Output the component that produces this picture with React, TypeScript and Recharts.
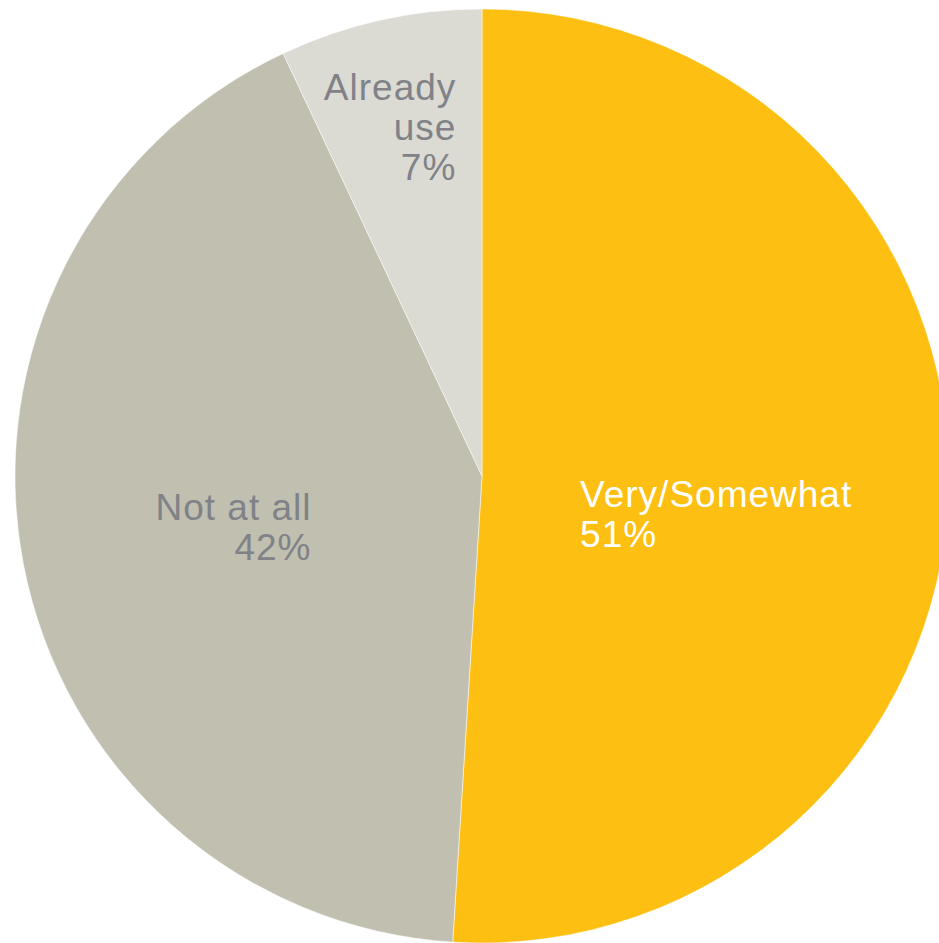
import React from 'react'
import { PieChart, Pie, Cell } from 'recharts'

const categories = ['Very/Somewhat', 'Not at all', 'Already use']
const shares = [51, 42, 7]
const labelLines = [['Very/Somewhat'], ['Not at all'], ['Already', 'use']]

const data = categories.map((name, i) => ({ name, value: shares[i], lines: labelLines[i] }))

const COLORS = ['#FDBF12', '#C1BFB0', '#DCDBD3']
const TEXT_COLORS = ['#FFFFFF', '#808288', '#808288']

// label placement relative to the pie (fractions of the radius)
const LABEL_POS = [
  { dx: 0.21, dy: 0.066, anchor: 'start' },
  { dx: -0.365, dy: 0.094, anchor: 'end' },
  { dx: -0.055, dy: -0.805, anchor: 'end' },
]

const LINE_H = 40

const renderLabel = (props: any) => {
  const { cx, cy, outerRadius, index, value } = props
  const p = LABEL_POS[index]
  const x = cx + p.dx * outerRadius
  const y = cy + p.dy * outerRadius
  const lines = [...data[index].lines, `${value}%`]
  return (
    <text
      x={x}
      y={y}
      textAnchor={p.anchor}
      fill={TEXT_COLORS[index]}
      fontSize={37}
      fontFamily="'Liberation Sans', Arial, sans-serif"
      style={{ letterSpacing: '1px' }}
    >
      {lines.map((l, i) => (
        <tspan key={i} x={x} y={y + i * LINE_H}>{l}</tspan>
      ))}
    </text>
  )
}

export default function App() {
  return (
    <div style={{ position: 'absolute', left: 0, top: 0, width: 939, height: 943, background: '#fff' }}>
      <PieChart width={939} height={943} margin={{ top: 0, right: 0, bottom: 0, left: 0 }}>
        <Pie
          data={data}
          dataKey="value"
          nameKey="name"
          cx={482}
          cy={476}
          outerRadius={467}
          startAngle={90}
          endAngle={-270}
          stroke="#ffffff"
          strokeWidth={0.5}
          label={renderLabel}
          labelLine={false}
          isAnimationActive={false}
        >
          {data.map((d, i) => (
            <Cell key={d.name} fill={COLORS[i]} />
          ))}
        </Pie>
      </PieChart>
    </div>
  )
}
